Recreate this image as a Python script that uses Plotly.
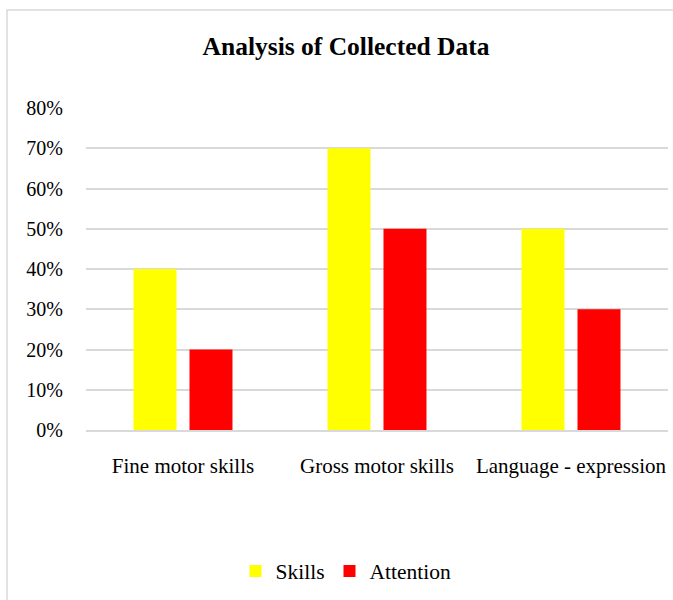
import plotly.graph_objects as go

categories = ["Fine motor skills", "Gross motor skills", "Language - expression"]
skills = [0.40, 0.70, 0.50]
attention = [0.20, 0.50, 0.30]
tick_vals = [0, 0.1, 0.2, 0.3, 0.4, 0.5, 0.6, 0.7, 0.8]
tick_text = ["0%", "10%", "20%", "30%", "40%", "50%", "60%", "70%", "80%"]

FONT = "Liberation Serif, Times New Roman, serif"
GRID = "#d9d9d9"

fig = go.Figure()
fig.add_trace(go.Bar(name="Skills", x=categories, y=skills, marker_color="#ffff00",
                     marker_line_width=0))
fig.add_trace(go.Bar(name="Attention", x=categories, y=attention, marker_color="#ff0000",
                     marker_line_width=0))

fig.update_layout(
    width=673, height=600,
    margin=dict(l=86, r=5, t=108, b=170),
    paper_bgcolor="white", plot_bgcolor="white",
    font=dict(family=FONT, size=21, color="#000000"),
    barmode="group", bargap=0.423, bargroupgap=0.232,
    title=dict(text="<b>Analysis of Collected Data</b>", x=346 / 673, xanchor="center",
               xref="container", y=1 - 46 / 600, yanchor="middle", yref="container",
               font=dict(family=FONT, size=25.5, color="#000000")),
    showlegend=True,
    legend=dict(orientation="h", xref="container", yref="container",
                x=346 / 673, xanchor="center", y=1 - 571 / 600, yanchor="middle",
                font=dict(family=FONT, size=21.5), itemwidth=30,
                traceorder="normal"),
    shapes=[dict(type="rect", xref="paper", yref="paper",
                 x0=(7 - 86) / 582, x1=(685 - 86) / 582,
                 y0=(430 - 610) / 322, y1=(430 - 10) / 322,
                 line=dict(color=GRID, width=1.5), fillcolor="rgba(0,0,0,0)",
                 layer="below")],
)
fig.update_xaxes(showgrid=False, showline=True, linecolor=GRID, linewidth=1.5,
                 ticks="", ticklabelstandoff=16, tickfont=dict(size=21))
fig.update_yaxes(range=[0, 0.8], tickvals=tick_vals, ticktext=tick_text,
                 showgrid=True, gridcolor=GRID, gridwidth=1.5, zeroline=False,
                 showline=False, ticks="", ticklabelstandoff=22,
                 tickfont=dict(size=20))

fig.write_html("out.html")
